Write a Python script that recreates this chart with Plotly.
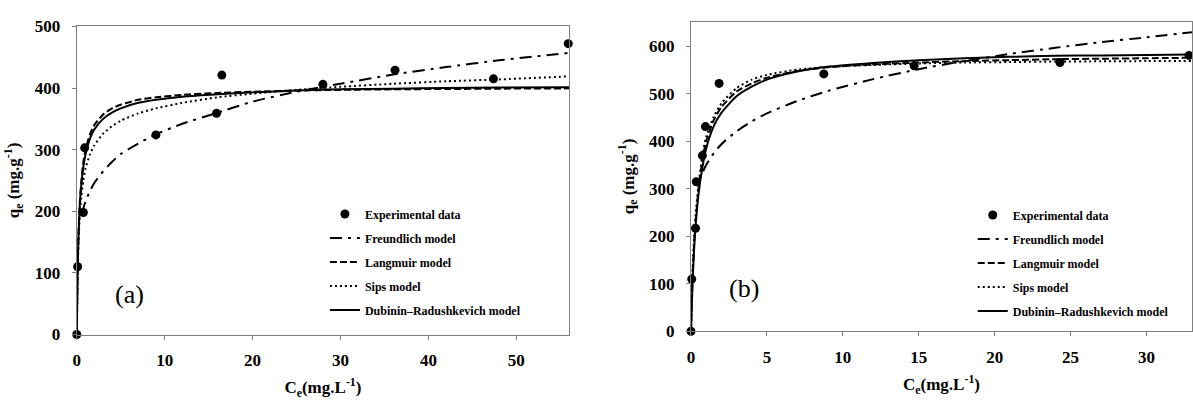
import plotly.graph_objects as go

# ---------------- Panel (a) data ----------------
ce_exp_a = [0, 0.1, 0.75, 0.9, 9.0, 15.9, 16.5, 28.0, 36.2, 47.4, 55.9]
qe_exp_a = [0, 110, 198, 303, 324, 359, 421, 406, 429, 415, 472]

ce_fit_a = [0, 0.05, 0.1, 0.2, 0.35, 0.5, 0.75, 1, 1.5, 2, 3, 4, 5, 7, 9, 12, 16, 20, 25, 30, 36, 42, 48, 56]
langmuir_a = [0, 60, 110, 165, 215, 245, 280, 300, 325, 340, 357, 367, 373, 381, 385, 389, 392, 394, 396, 397, 398, 398.5, 399, 399.5]
dr_a = [0, 50, 100, 160, 210, 240, 272, 292, 318, 333, 350, 360, 367, 376, 381, 386, 390, 393, 396, 398, 399, 400, 401, 401.5]
sips_a = [0, 55, 100, 150, 195, 220, 250, 270, 292, 307, 326, 338, 347, 359, 367, 376, 385, 391, 397, 402, 407, 411, 414, 419]
ce_fr_a = [0.6, 0.75, 1, 1.5, 2, 3, 4, 5, 7, 9, 12, 16, 20, 25, 30, 36, 42, 48, 56]
freundlich_a = [196, 205, 216, 233, 246, 265, 280, 293, 310, 325, 342, 360, 378, 394, 407, 422, 434, 445, 457]

# ---------------- Panel (b) data ----------------
ce_exp_b = [0, 0.05, 0.3, 0.35, 0.75, 0.95, 1.85, 8.75, 14.7, 24.3, 32.8]
qe_exp_b = [0, 110, 217, 315, 370, 431, 522, 542, 559, 566, 581]

ce_fit_b = [0, 0.05, 0.1, 0.2, 0.3, 0.5, 0.75, 1, 1.5, 2, 3, 4, 5, 7, 9, 12, 15, 18, 21, 24, 27, 30, 33]
langmuir_b = [0, 60, 110, 180, 230, 300, 360, 400, 445, 472, 505, 522, 534, 548, 556, 562, 566, 569, 571, 573, 574, 575, 576]
dr_b = [0, 50, 100, 170, 220, 290, 345, 385, 432, 460, 495, 515, 530, 547, 557, 565, 571, 575, 578, 580, 581, 582, 583]
sips_b = [0, 70, 125, 195, 245, 310, 370, 410, 452, 480, 512, 530, 540, 551, 557, 561, 564, 566, 567, 568, 568.5, 569, 569]
ce_fr_b = [0.8, 1, 1.5, 2, 3, 4, 5, 7, 9, 12, 15, 18, 21, 24, 27, 30, 33]
freundlich_b = [337, 350, 375, 394, 421, 442, 459, 485, 506, 531, 552, 569, 584, 597, 609, 619, 630]

names = ["Experimental data", "Freundlich model", "Langmuir model", "Sips model",
         "Dubinin\u2013Radushkevich model"]

SERIF = "Liberation Serif"
fig = go.Figure()


def add_panel(xa, ya, leg, ce_exp, qe_exp, ce_fit, lang, dr, sips, ce_fr, fr):
    fig.add_trace(go.Scatter(x=ce_exp, y=qe_exp, mode="markers", name=names[0],
                             marker=dict(color="black", size=9), xaxis=xa, yaxis=ya,
                             cliponaxis=False, legend=leg, legendgroup=leg + "0"))
    fig.add_trace(go.Scatter(x=ce_fr, y=fr, mode="lines", name=names[1],
                             line=dict(color="black", width=2, dash="12px,6px,3px,6px", shape="spline", smoothing=0.6),
                             xaxis=xa, yaxis=ya, legend=leg, legendgroup=leg + "1"))
    fig.add_trace(go.Scatter(x=ce_fit, y=lang, mode="lines", name=names[2],
                             line=dict(color="black", width=2, dash="7px,3px", shape="spline", smoothing=0.6),
                             xaxis=xa, yaxis=ya, legend=leg, legendgroup=leg + "2"))
    fig.add_trace(go.Scatter(x=ce_fit, y=sips, mode="lines", name=names[3],
                             line=dict(color="black", width=2, dash="2px,3px", shape="spline", smoothing=0.6),
                             xaxis=xa, yaxis=ya, legend=leg, legendgroup=leg + "3"))
    fig.add_trace(go.Scatter(x=ce_fit, y=dr, mode="lines", name=names[4],
                             line=dict(color="black", width=2, shape="spline", smoothing=0.6),
                             xaxis=xa, yaxis=ya, legend=leg, legendgroup=leg + "4"))


add_panel("x", "y", "legend", ce_exp_a, qe_exp_a, ce_fit_a, langmuir_a, dr_a, sips_a, ce_fr_a, freundlich_a)
add_panel("x2", "y2", "legend2", ce_exp_b, qe_exp_b, ce_fit_b, langmuir_b, dr_b, sips_b, ce_fr_b, freundlich_b)

W, H = 1193, 402
tickfont = dict(family=SERIF, size=17, color="black", weight="bold")
titlefont = dict(family=SERIF, size=17, color="black", weight="bold")

common = dict(showline=True, linecolor="#7f7f7f", linewidth=1, mirror=True,
              ticks="outside", ticklen=4, tickcolor="#7f7f7f", tickwidth=1,
              showgrid=False, zeroline=False, tickfont=tickfont)

xt = "C<sub>e</sub>(mg.L<sup>-1</sup>)"
yt = "q<sub>e</sub> (mg.g<sup>-1</sup>)"

legfont = dict(family=SERIF, size=12, color="black", weight="bold")

fig.update_layout(
    width=W, height=H, margin=dict(l=0, r=0, t=0, b=0),
    paper_bgcolor="white", plot_bgcolor="white",
    font=dict(family=SERIF, color="black"),
    xaxis=dict(domain=[73 / W, 567 / W], range=[0, 56], tickvals=[0, 10, 20, 30, 40, 50],
               anchor="y", ticklabelstandoff=6,
               title=dict(text=xt, font=titlefont, standoff=12), **common),
    yaxis=dict(domain=[(H - 341.7) / H, (H - 18.3) / H], range=[0, 500],
               tickvals=[0, 100, 200, 300, 400, 500], anchor="x", ticklabelstandoff=8,
               title=dict(text=yt, font=titlefont, standoff=10), **common),
    xaxis2=dict(domain=[689.3 / W, 1192 / W], range=[0, 33], tickvals=[0, 5, 10, 15, 20, 25, 30],
                anchor="y2", ticklabelstandoff=6,
                title=dict(text=xt, font=titlefont, standoff=12), **common),
    yaxis2=dict(domain=[(H - 338.3) / H, (H - 13.3) / H], range=[0, 652],
                tickvals=[0, 100, 200, 300, 400, 500, 600], anchor="x2", ticklabelstandoff=8,
                title=dict(text=yt, font=titlefont, standoff=10), **common),
    legend=dict(x=322 / W, y=(H - 200) / H, xanchor="left", yanchor="top",
                bgcolor="rgba(0,0,0,0)", font=legfont, tracegroupgap=5, itemwidth=30),
    legend2=dict(x=972 / W, y=(H - 201) / H, xanchor="left", yanchor="top",
                 bgcolor="rgba(0,0,0,0)", font=legfont, tracegroupgap=5, itemwidth=30),
    showlegend=True,
    annotations=[
        dict(text="(a)", x=6, y=65, xref="x", yref="y", showarrow=False,
             font=dict(family=SERIF, size=26, color="black")),
        dict(text="(b)", x=3.5, y=90, xref="x2", yref="y2", showarrow=False,
             font=dict(family=SERIF, size=26, color="black")),
    ],
)

fig.write_html("out.html")
